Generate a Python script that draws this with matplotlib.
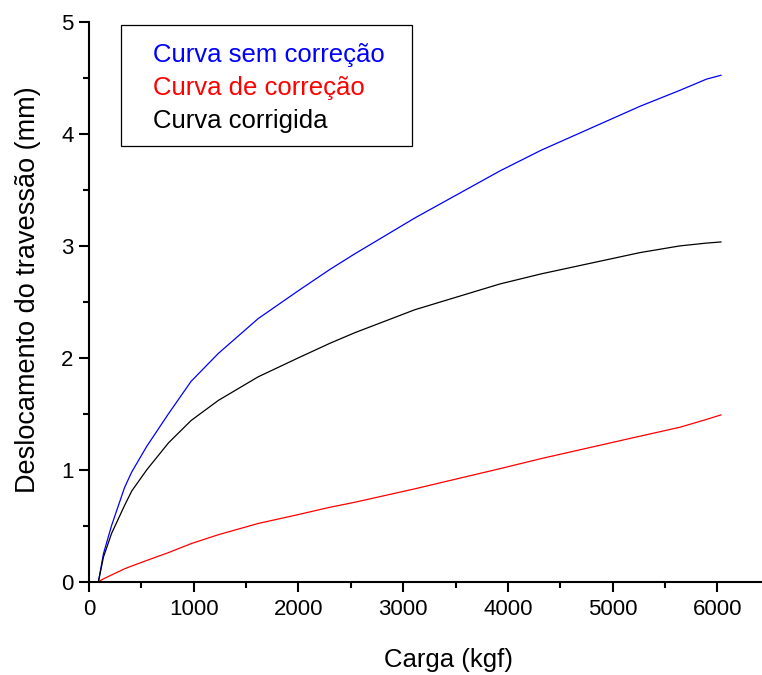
import matplotlib
matplotlib.use("Agg")
import matplotlib.pyplot as plt
from matplotlib.patches import Rectangle
from matplotlib.ticker import MultipleLocator

plt.rcParams['font.family'] = ['Liberation Sans', 'DejaVu Sans']

carga = [90, 138, 215, 339, 408, 552, 759, 975, 1236, 1615, 2000, 2301, 2540,
         3113, 3925, 4319, 5262, 5644, 5898, 6035]
sem_correcao = [0, 0.25, 0.50, 0.84, 0.98, 1.21, 1.50, 1.79, 2.04, 2.35, 2.60, 2.79,
                2.93, 3.25, 3.67, 3.855, 4.247, 4.39, 4.49, 4.524]
de_correcao = [0, 0.025, 0.06, 0.115, 0.14, 0.19, 0.26, 0.34, 0.42, 0.52, 0.60, 0.665,
               0.71, 0.83, 1.01, 1.10, 1.30, 1.38, 1.45, 1.49]
corrigida = [0, 0.22, 0.43, 0.68, 0.81, 1.00, 1.24, 1.44, 1.62, 1.83, 2.00, 2.13,
             2.225, 2.43, 2.66, 2.75, 2.94, 3.00, 3.025, 3.035]

labels = ["Curva sem correção", "Curva de correção", "Curva corrigida"]
colors = ["#0000ff", "#ff0000", "#000000"]

W, H = 762, 675
fig = plt.figure(figsize=(W / 100, H / 100), dpi=100)
x0, x1 = 89, 762
y0, y1 = 581.7, 22
ax = fig.add_axes([x0 / W, 1 - y0 / H, (x1 - x0) / W, (y0 - y1) / H])

for ys, c in zip([sem_correcao, de_correcao, corrigida], colors):
    ax.plot(carga, ys, color=c, lw=0.9)

ax.set_xlim(0, 6427)
ax.set_ylim(0, 5)
ax.xaxis.set_major_locator(MultipleLocator(1000))
ax.xaxis.set_minor_locator(MultipleLocator(500))
ax.yaxis.set_major_locator(MultipleLocator(1))
ax.yaxis.set_minor_locator(MultipleLocator(0.5))
for s in ['top', 'right']:
    ax.spines[s].set_visible(False)
for s in ['left', 'bottom']:
    ax.spines[s].set_linewidth(1.5)
ax.tick_params(which='major', direction='out', length=7.5, width=1.5, labelsize=16)
ax.tick_params(which='minor', direction='out', length=4, width=1.5)
ax.tick_params(axis='x', which='major', pad=5)
ax.tick_params(axis='y', which='major', pad=3.5)

ax.set_xlabel("Carga (kgf)", fontsize=18.5)
ax.set_ylabel("Deslocamento do travessão (mm)", fontsize=19.5)
ax.xaxis.set_label_coords((449 - x0) / (x1 - x0), (y0 - 660) / (y0 - y1))
ax.yaxis.set_label_coords((28 - x0) / (x1 - x0), (y0 - 290) / (y0 - y1))
ax.xaxis.label.set_va('center')
ax.yaxis.label.set_va('center')

# legend box
fig.patches.append(Rectangle((121 / W, 1 - 146 / H), (412 - 121) / W, (146 - 25) / H,
                             transform=fig.transFigure, fill=False, ec='black', lw=0.9))
for lab, c, yb in zip(labels, colors, [61.7, 95, 128.3]):
    fig.text(153 / W, 1 - yb / H, lab, color=c, fontsize=18.5, va='baseline', ha='left')

fig.savefig("out.png", dpi=100)
